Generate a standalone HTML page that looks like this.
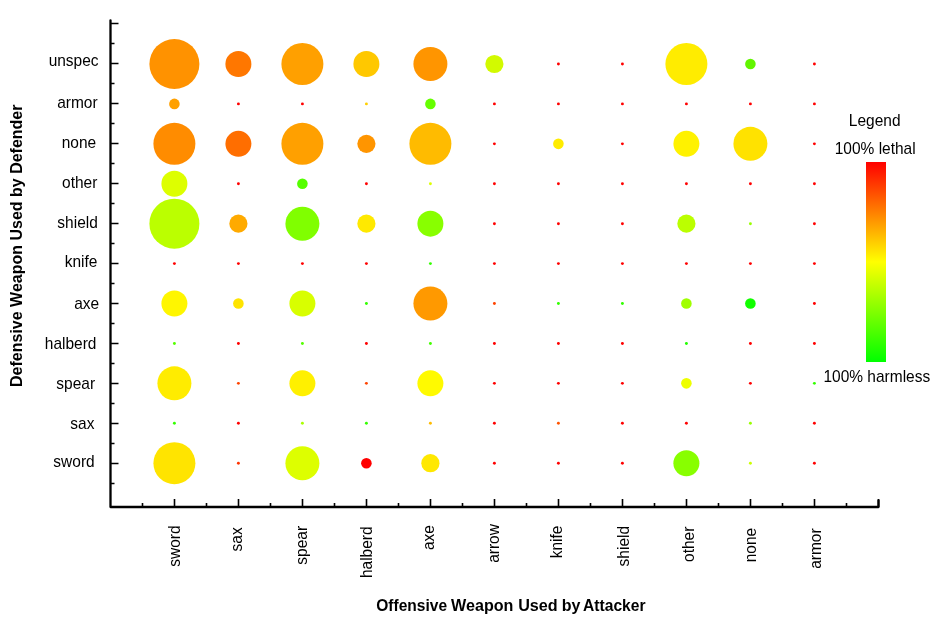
<!DOCTYPE html>
<html><head><meta charset="utf-8"><style>
html,body{margin:0;padding:0;background:#fff;}
body{width:943px;height:629px;overflow:hidden;}
svg{display:block;will-change:transform;}
text{font-family:"Liberation Sans", sans-serif;fill:#000;}
</style></head><body>
<svg width="943" height="629" viewBox="0 0 943 629">
<defs><linearGradient id="lg" x1="0" y1="0" x2="0" y2="1">
<stop offset="0" stop-color="#FF0000"/><stop offset="0.5" stop-color="#FFFF00"/><stop offset="1" stop-color="#00FF00"/>
</linearGradient></defs>

<g stroke="#000" fill="none" stroke-linecap="round" stroke-linejoin="round">
<path d="M110.5 20.3 L110.5 507 L878.5 507 L878.5 500.3" stroke-width="2.3"/>
<path d="M110.5 23.5 H118.5 M110.5 43.5 H114.5 M110.5 63.5 H118.5 M110.5 83.5 H114.5 M110.5 103.5 H118.5 M110.5 123.5 H114.5 M110.5 143.5 H118.5 M110.5 163.5 H114.5 M110.5 183.5 H118.5 M110.5 203.5 H114.5 M110.5 223.5 H118.5 M110.5 243.5 H114.5 M110.5 263.5 H118.5 M110.5 283.5 H114.5 M110.5 303.5 H118.5 M110.5 323.5 H114.5 M110.5 343.5 H118.5 M110.5 363.5 H114.5 M110.5 383.5 H118.5 M110.5 403.5 H114.5 M110.5 423.5 H118.5 M110.5 443.5 H114.5 M110.5 463.5 H118.5 M110.5 483.5 H114.5 M174.5 507 V499 M142.5 507 V503 M238.5 507 V499 M206.5 507 V503 M302.5 507 V499 M270.5 507 V503 M366.5 507 V499 M334.5 507 V503 M430.5 507 V499 M398.5 507 V503 M494.5 507 V499 M462.5 507 V503 M558.5 507 V499 M526.5 507 V503 M622.5 507 V499 M590.5 507 V503 M686.5 507 V499 M654.5 507 V503 M750.5 507 V499 M718.5 507 V503 M814.5 507 V499 M782.5 507 V503 M878.5 507 V499 M846.5 507 V503" stroke-width="1.6" stroke-linecap="butt"/>
</g>
<circle cx="174.4" cy="64.0" r="25.0" fill="#FF9200"/>
<circle cx="238.4" cy="64.0" r="13.0" fill="#FF7700"/>
<circle cx="302.4" cy="64.0" r="21.0" fill="#FFA000"/>
<circle cx="366.4" cy="64.0" r="13.0" fill="#FFC800"/>
<circle cx="430.4" cy="64.0" r="17.0" fill="#FF9500"/>
<circle cx="494.4" cy="64.0" r="9.1" fill="#D2FA00"/>
<circle cx="558.4" cy="64.0" r="1.45" fill="#FF0000"/>
<circle cx="622.4" cy="64.0" r="1.45" fill="#FF0000"/>
<circle cx="686.4" cy="64.0" r="21.0" fill="#FFEC00"/>
<circle cx="750.4" cy="64.0" r="5.3" fill="#62F500"/>
<circle cx="814.4" cy="64.0" r="1.45" fill="#FF0000"/>
<circle cx="174.4" cy="103.92" r="5.3" fill="#FFA000"/>
<circle cx="238.4" cy="103.92" r="1.45" fill="#FF0000"/>
<circle cx="302.4" cy="103.92" r="1.45" fill="#FF0000"/>
<circle cx="366.4" cy="103.92" r="1.45" fill="#FFD000"/>
<circle cx="430.4" cy="103.92" r="5.3" fill="#66FF00"/>
<circle cx="494.4" cy="103.92" r="1.45" fill="#FF0000"/>
<circle cx="558.4" cy="103.92" r="1.45" fill="#FF0000"/>
<circle cx="622.4" cy="103.92" r="1.45" fill="#FF0000"/>
<circle cx="686.4" cy="103.92" r="1.45" fill="#FF0000"/>
<circle cx="750.4" cy="103.92" r="1.45" fill="#FF0000"/>
<circle cx="814.4" cy="103.92" r="1.45" fill="#FF0000"/>
<circle cx="174.4" cy="143.84" r="21.0" fill="#FF8C00"/>
<circle cx="238.4" cy="143.84" r="13.0" fill="#FF6E00"/>
<circle cx="302.4" cy="143.84" r="21.0" fill="#FFA000"/>
<circle cx="366.4" cy="143.84" r="9.1" fill="#FF9500"/>
<circle cx="430.4" cy="143.84" r="21.0" fill="#FFBB00"/>
<circle cx="494.4" cy="143.84" r="1.45" fill="#FF0000"/>
<circle cx="558.4" cy="143.84" r="5.3" fill="#FFEC00"/>
<circle cx="622.4" cy="143.84" r="1.45" fill="#FF0000"/>
<circle cx="686.4" cy="143.84" r="13.0" fill="#FFF200"/>
<circle cx="750.4" cy="143.84" r="17.0" fill="#FFE200"/>
<circle cx="814.4" cy="143.84" r="1.45" fill="#FF0000"/>
<circle cx="174.4" cy="183.76" r="13.0" fill="#DDFF00"/>
<circle cx="238.4" cy="183.76" r="1.45" fill="#FF0000"/>
<circle cx="302.4" cy="183.76" r="5.3" fill="#55FF00"/>
<circle cx="366.4" cy="183.76" r="1.45" fill="#FF0000"/>
<circle cx="430.4" cy="183.76" r="1.45" fill="#DDFF00"/>
<circle cx="494.4" cy="183.76" r="1.45" fill="#FF0000"/>
<circle cx="558.4" cy="183.76" r="1.45" fill="#FF0000"/>
<circle cx="622.4" cy="183.76" r="1.45" fill="#FF0000"/>
<circle cx="686.4" cy="183.76" r="1.45" fill="#FF0000"/>
<circle cx="750.4" cy="183.76" r="1.45" fill="#FF0000"/>
<circle cx="814.4" cy="183.76" r="1.45" fill="#FF0000"/>
<circle cx="174.4" cy="223.68" r="25.0" fill="#BBFF00"/>
<circle cx="238.4" cy="223.68" r="9.1" fill="#FFAA00"/>
<circle cx="302.4" cy="223.68" r="17.0" fill="#80FF00"/>
<circle cx="366.4" cy="223.68" r="9.1" fill="#FFE900"/>
<circle cx="430.4" cy="223.68" r="13.0" fill="#88FF00"/>
<circle cx="494.4" cy="223.68" r="1.45" fill="#FF0000"/>
<circle cx="558.4" cy="223.68" r="1.45" fill="#FF0000"/>
<circle cx="622.4" cy="223.68" r="1.45" fill="#FF0000"/>
<circle cx="686.4" cy="223.68" r="9.1" fill="#BBFF00"/>
<circle cx="750.4" cy="223.68" r="1.45" fill="#99FF00"/>
<circle cx="814.4" cy="223.68" r="1.45" fill="#FF0000"/>
<circle cx="174.4" cy="263.6" r="1.45" fill="#FF0000"/>
<circle cx="238.4" cy="263.6" r="1.45" fill="#FF0000"/>
<circle cx="302.4" cy="263.6" r="1.45" fill="#FF0000"/>
<circle cx="366.4" cy="263.6" r="1.45" fill="#FF0000"/>
<circle cx="430.4" cy="263.6" r="1.45" fill="#33FF00"/>
<circle cx="494.4" cy="263.6" r="1.45" fill="#FF0000"/>
<circle cx="558.4" cy="263.6" r="1.45" fill="#FF0000"/>
<circle cx="622.4" cy="263.6" r="1.45" fill="#FF0000"/>
<circle cx="686.4" cy="263.6" r="1.45" fill="#FF0000"/>
<circle cx="750.4" cy="263.6" r="1.45" fill="#FF0000"/>
<circle cx="814.4" cy="263.6" r="1.45" fill="#FF0000"/>
<circle cx="174.4" cy="303.52" r="13.0" fill="#FFF600"/>
<circle cx="238.4" cy="303.52" r="5.3" fill="#FFE400"/>
<circle cx="302.4" cy="303.52" r="13.0" fill="#D8FF00"/>
<circle cx="366.4" cy="303.52" r="1.45" fill="#33FF00"/>
<circle cx="430.4" cy="303.52" r="17.0" fill="#FF9900"/>
<circle cx="494.4" cy="303.52" r="1.45" fill="#FF4400"/>
<circle cx="558.4" cy="303.52" r="1.45" fill="#33FF00"/>
<circle cx="622.4" cy="303.52" r="1.45" fill="#33FF00"/>
<circle cx="686.4" cy="303.52" r="5.3" fill="#A0FF00"/>
<circle cx="750.4" cy="303.52" r="5.3" fill="#11FF00"/>
<circle cx="814.4" cy="303.52" r="1.45" fill="#FF0000"/>
<circle cx="174.4" cy="343.44" r="1.45" fill="#55FF00"/>
<circle cx="238.4" cy="343.44" r="1.45" fill="#FF0000"/>
<circle cx="302.4" cy="343.44" r="1.45" fill="#55FF00"/>
<circle cx="366.4" cy="343.44" r="1.45" fill="#FF0000"/>
<circle cx="430.4" cy="343.44" r="1.45" fill="#44FF00"/>
<circle cx="494.4" cy="343.44" r="1.45" fill="#FF0000"/>
<circle cx="558.4" cy="343.44" r="1.45" fill="#FF0000"/>
<circle cx="622.4" cy="343.44" r="1.45" fill="#FF0000"/>
<circle cx="686.4" cy="343.44" r="1.45" fill="#22FF00"/>
<circle cx="750.4" cy="343.44" r="1.45" fill="#FF0000"/>
<circle cx="814.4" cy="343.44" r="1.45" fill="#FF0000"/>
<circle cx="174.4" cy="383.36" r="17.0" fill="#FFEC00"/>
<circle cx="238.4" cy="383.36" r="1.45" fill="#FF4400"/>
<circle cx="302.4" cy="383.36" r="13.0" fill="#FFF000"/>
<circle cx="366.4" cy="383.36" r="1.45" fill="#FF4400"/>
<circle cx="430.4" cy="383.36" r="13.0" fill="#FFFA00"/>
<circle cx="494.4" cy="383.36" r="1.45" fill="#FF0000"/>
<circle cx="558.4" cy="383.36" r="1.45" fill="#FF0000"/>
<circle cx="622.4" cy="383.36" r="1.45" fill="#FF0000"/>
<circle cx="686.4" cy="383.36" r="5.3" fill="#EEFF00"/>
<circle cx="750.4" cy="383.36" r="1.45" fill="#FF0000"/>
<circle cx="814.4" cy="383.36" r="1.45" fill="#33FF00"/>
<circle cx="174.4" cy="423.28000000000003" r="1.45" fill="#33FF00"/>
<circle cx="238.4" cy="423.28000000000003" r="1.45" fill="#FF0000"/>
<circle cx="302.4" cy="423.28000000000003" r="1.45" fill="#AAFF00"/>
<circle cx="366.4" cy="423.28000000000003" r="1.45" fill="#33FF00"/>
<circle cx="430.4" cy="423.28000000000003" r="1.45" fill="#FFBB00"/>
<circle cx="494.4" cy="423.28000000000003" r="1.45" fill="#FF0000"/>
<circle cx="558.4" cy="423.28000000000003" r="1.45" fill="#FF5500"/>
<circle cx="622.4" cy="423.28000000000003" r="1.45" fill="#FF0000"/>
<circle cx="686.4" cy="423.28000000000003" r="1.45" fill="#FF0000"/>
<circle cx="750.4" cy="423.28000000000003" r="1.45" fill="#99FF00"/>
<circle cx="814.4" cy="423.28000000000003" r="1.45" fill="#FF0000"/>
<circle cx="174.4" cy="463.20000000000005" r="21.0" fill="#FFE400"/>
<circle cx="238.4" cy="463.20000000000005" r="1.45" fill="#FF3300"/>
<circle cx="302.4" cy="463.20000000000005" r="17.0" fill="#DDFF00"/>
<circle cx="366.4" cy="463.20000000000005" r="5.3" fill="#FF0000"/>
<circle cx="430.4" cy="463.20000000000005" r="9.1" fill="#FFE800"/>
<circle cx="494.4" cy="463.20000000000005" r="1.45" fill="#FF0000"/>
<circle cx="558.4" cy="463.20000000000005" r="1.45" fill="#FF0000"/>
<circle cx="622.4" cy="463.20000000000005" r="1.45" fill="#FF0000"/>
<circle cx="686.4" cy="463.20000000000005" r="13.0" fill="#88FF00"/>
<circle cx="750.4" cy="463.20000000000005" r="1.45" fill="#CCFF00"/>
<circle cx="814.4" cy="463.20000000000005" r="1.45" fill="#FF0000"/>
<text transform="translate(48.64,65.7) scale(1,1.08)" font-size="15.5">unspec</text>
<text transform="translate(57.14,107.8) scale(1,1.08)" font-size="15.5">armor</text>
<text transform="translate(61.67,147.9) scale(1,1.08)" font-size="15.5">none</text>
<text transform="translate(62.05,187.9) scale(1,1.08)" font-size="15.5">other</text>
<text transform="translate(57.37,227.9) scale(1,1.08)" font-size="15.5">shield</text>
<text transform="translate(64.76,266.9) scale(1,1.08)" font-size="15.5">knife</text>
<text transform="translate(74.14,308.75) scale(1,1.08)" font-size="15.5">axe</text>
<text transform="translate(44.79,348.75) scale(1,1.08)" font-size="15.5">halberd</text>
<text transform="translate(56.32,388.75) scale(1,1.08)" font-size="15.5">spear</text>
<text transform="translate(70.37,428.75) scale(1,1.08)" font-size="15.5">sax</text>
<text transform="translate(53.37,466.9) scale(1,1.08)" font-size="15.5">sword</text>
<text transform="translate(180.35,566.73) rotate(-90) scale(1,1.08)" font-size="15.5">sword</text>
<text transform="translate(242.35,551.43) rotate(-90) scale(1,1.08)" font-size="15.5">sax</text>
<text transform="translate(306.6,564.63) rotate(-90) scale(1,1.08)" font-size="15.5">spear</text>
<text transform="translate(372.1,578.07) rotate(-90) scale(1,1.08)" font-size="15.5">halberd</text>
<text transform="translate(434.3,550.06) rotate(-90) scale(1,1.08)" font-size="15.5">axe</text>
<text transform="translate(499.2,562.86) rotate(-90) scale(1,1.08)" font-size="15.5">arrow</text>
<text transform="translate(562,558.24) rotate(-90) scale(1,1.08)" font-size="15.5">knife</text>
<text transform="translate(629.2,566.43) rotate(-90) scale(1,1.08)" font-size="15.5">shield</text>
<text transform="translate(694,561.95) rotate(-90) scale(1,1.08)" font-size="15.5">other</text>
<text transform="translate(756.2,562.33) rotate(-90) scale(1,1.08)" font-size="15.5">none</text>
<text transform="translate(821.2,568.86) rotate(-90) scale(1,1.08)" font-size="15.5">armor</text>
<text transform="translate(376.25,610.7) scale(0.973,1)" font-size="16" font-weight="bold">Offensive</text>
<text transform="translate(451.1,610.7) scale(1.008,1)" font-size="16" font-weight="bold">Weapon</text>
<text transform="translate(518.15,610.7) scale(1.01,1)" font-size="16" font-weight="bold">Used</text>
<text transform="translate(561.85,610.7) scale(1.0,1)" font-size="16" font-weight="bold">by</text>
<text transform="translate(583.05,610.7) scale(0.976,1)" font-size="16" font-weight="bold">Attacker</text>
<text transform="translate(22,386.97) rotate(-90)" font-size="16" font-weight="bold">Defensive Weapon Used by Defender</text>
<text transform="translate(848.8,125.9) scale(1,1.08)" font-size="15.5">Legend</text>
<text transform="translate(834.7,153.8) scale(1,1.08)" font-size="15.5">100% lethal</text>
<rect x="866" y="162" width="20" height="200" fill="url(#lg)"/>
<text transform="translate(823.4,381.8) scale(1,1.08)" font-size="15.5">100% harmless</text>
</svg></body></html>
